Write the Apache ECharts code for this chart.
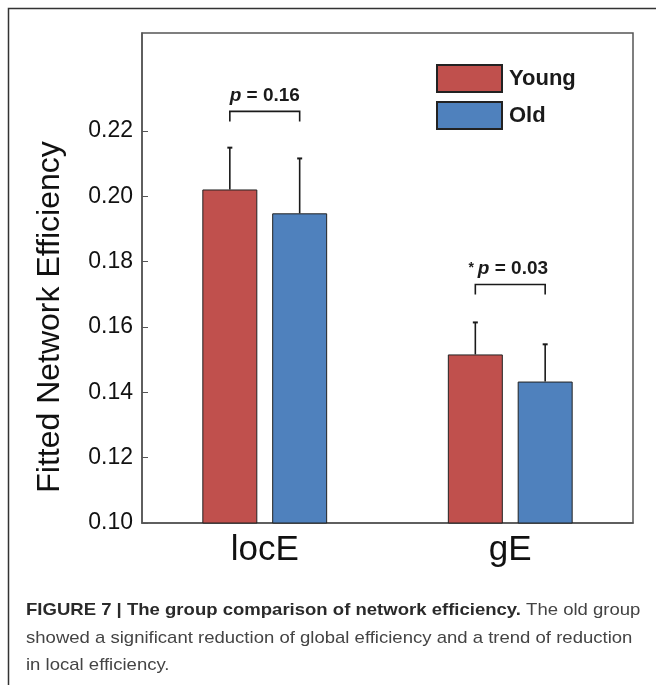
<!DOCTYPE html>
<html>
<head>
<meta charset="utf-8">
<script src="https://cdn.jsdelivr.net/npm/echarts@6/dist/echarts.min.js"></script>
<style>
  html, body { margin: 0; padding: 0; background: #fff; }
  #chart { width: 656px; height: 685px; }
</style>
</head>
<body>
<div id="chart"></div>
<script>
// ---- data ----
var categories = ['locE', 'gE'];
var seriesNames = ['Young', 'Old'];
var youngMean = [0.2021, 0.1516];
var oldMean = [0.1948, 0.1433];
var youngErr = [0.0128, 0.0098];
var oldErr = [0.0168, 0.0114];
var bracketLevel = [0.226, 0.173];
var pPrefix = ['', '* '];
var pValue = ['0.16', '0.03'];
var yTicks = [0.10, 0.12, 0.14, 0.16, 0.18, 0.20, 0.22];
var captionBold = 'FIGURE 7 | The group comparison of network efficiency.';
var captionLines = [
  ' The old group',
  'showed a significant reduction of global efficiency and a trend of reduction',
  'in local efficiency.'
];

var FONT = '"Liberation Sans", Arial, Helvetica, sans-serif';
var BAR_W = 0.224, BAR_GAP = 0.27;

var chart = echarts.init(document.getElementById('chart'));

function errData(means, errs) {
  return means.map(function (m, i) { return [i, m, errs[i]]; });
}

function errRender(sign) {
  return function (params, api) {
    var band = api.size([1, 0])[0];
    var off = sign * band * BAR_W * (1 + BAR_GAP) / 2;
    var base = api.coord([api.value(0), api.value(1)]);
    var top = api.coord([api.value(0), api.value(1) + api.value(2)]);
    var x = base[0] + off;
    var st = { stroke: '#1a1a1a', lineWidth: 1.6 };
    return {
      type: 'group',
      children: [
        { type: 'line', shape: { x1: x, y1: base[1], x2: x, y2: top[1] }, style: st },
        { type: 'line', shape: { x1: x - 2.5, y1: top[1], x2: x + 2.5, y2: top[1] }, style: { stroke: '#1a1a1a', lineWidth: 2 } }
      ]
    };
  };
}

var bracketData = bracketLevel.map(function (v, i) { return [i, v]; });

var CAP_SX = 1.09;

var option = {
  animation: false,
  backgroundColor: '#fff',
  grid: {
    left: 142, top: 33, right: 23, bottom: 162,
    show: true, borderColor: '#555', borderWidth: 1.5,
    containLabel: false
  },
  legend: {
    data: seriesNames,
    orient: 'vertical',
    left: 431, top: 59,
    itemWidth: 65, itemHeight: 27, itemGap: 8,
    icon: 'rect',
    selectedMode: false,
    textStyle: { fontFamily: FONT, fontWeight: 'bold', fontSize: 22, color: '#1a1a1a', padding: [0, 0, 0, 2] }
  },
  xAxis: {
    type: 'category',
    data: categories,
    axisLine: { show: true, lineStyle: { color: '#555', width: 1.5 } },
    axisTick: { show: false },
    axisLabel: { fontFamily: FONT, fontSize: 35, color: '#111', margin: 10 },
    splitLine: { show: false }
  },
  yAxis: {
    type: 'value',
    min: 0.10, max: 0.25, interval: 0.02,
    name: 'Fitted Network Efficiency',
    nameLocation: 'middle',
    nameGap: 76,
    nameTextStyle: { fontFamily: FONT, fontSize: 32, color: '#111', padding: [0, 78, 0, 0] },
    axisLine: { show: true, lineStyle: { color: '#555', width: 1.5 } },
    axisTick: { show: true, inside: true, length: 6, lineStyle: { color: '#555', width: 1 }, customValues: yTicks },
    axisLabel: {
      fontFamily: FONT, fontSize: 23, color: '#111', margin: 9,
      customValues: yTicks,
      formatter: function (v) { return v.toFixed(2); }
    },
    splitLine: { show: false }
  },
  series: [
    {
      name: 'Young', type: 'bar', data: youngMean,
      barWidth: (BAR_W * 100) + '%', barGap: (BAR_GAP * 100) + '%',
      itemStyle: { color: '#C0504D', borderColor: '#222', borderWidth: 1 }
    },
    {
      name: 'Old', type: 'bar', data: oldMean,
      barWidth: (BAR_W * 100) + '%', barGap: (BAR_GAP * 100) + '%',
      itemStyle: { color: '#4F81BD', borderColor: '#222', borderWidth: 1 }
    },
    {
      name: 'YoungErr', type: 'custom', data: errData(youngMean, youngErr),
      renderItem: errRender(-1), z: 3, silent: true
    },
    {
      name: 'OldErr', type: 'custom', data: errData(oldMean, oldErr),
      renderItem: errRender(1), z: 3, silent: true
    },
    {
      name: 'Brackets', type: 'custom', data: bracketData, z: 4, silent: true,
      renderItem: function (params, api) {
        var band = api.size([1, 0])[0];
        var off = band * BAR_W * (1 + BAR_GAP) / 2;
        var c = api.coord([api.value(0), api.value(1)]);
        var i = params.dataIndex;
        var x1 = c[0] - off, x2 = c[0] + off, y = c[1];
        return {
          type: 'group',
          children: [
            { type: 'polyline', shape: { points: [[x1, y + 10], [x1, y], [x2, y], [x2, y + 10]] },
              style: { stroke: '#1a1a1a', lineWidth: 1.6, fill: null } },
            { type: 'text', x: c[0] + (pPrefix[i] ? -2 : 0), y: y - 16,
              style: {
                text: (pPrefix[i] ? '{s|' + pPrefix[i] + '}' : '') + '{i|p}{b| = ' + pValue[i] + '}',
                align: 'center', verticalAlign: 'middle',
                rich: {
                  s: { fontFamily: FONT, fontWeight: 'bold', fontSize: 14, fill: '#1a1a1a' },
                  i: { fontFamily: FONT, fontWeight: 'bold', fontStyle: 'italic', fontSize: 19, fill: '#1a1a1a' },
                  b: { fontFamily: FONT, fontWeight: 'bold', fontSize: 19, fill: '#1a1a1a' }
                }
              } }
          ]
        };
      }
    }
  ],
  graphic: [
    { type: 'polyline', shape: { points: [[8.5, 700], [8.5, 8.5], [700, 8.5]] },
      style: { stroke: '#333', lineWidth: 1.5, fill: null } },
    { type: 'text', x: 26, y: 602, scaleX: CAP_SX,
      style: {
        text: '{b|' + captionBold + '}{n|' + captionLines[0] + '}',
        rich: {
          b: { fontFamily: FONT, fontWeight: 'bold', fontSize: 17, fill: '#2a2a2a' },
          n: { fontFamily: FONT, fontSize: 17, fill: '#444' }
        }
      } },
    { type: 'text', x: 26, y: 630, scaleX: CAP_SX,
      style: { text: captionLines[1], fontFamily: FONT, fontSize: 17, fill: '#444' } },
    { type: 'text', x: 26, y: 657, scaleX: CAP_SX,
      style: { text: captionLines[2], fontFamily: FONT, fontSize: 17, fill: '#444' } }
  ]
};

chart.setOption(option);
</script>
</body>
</html>
